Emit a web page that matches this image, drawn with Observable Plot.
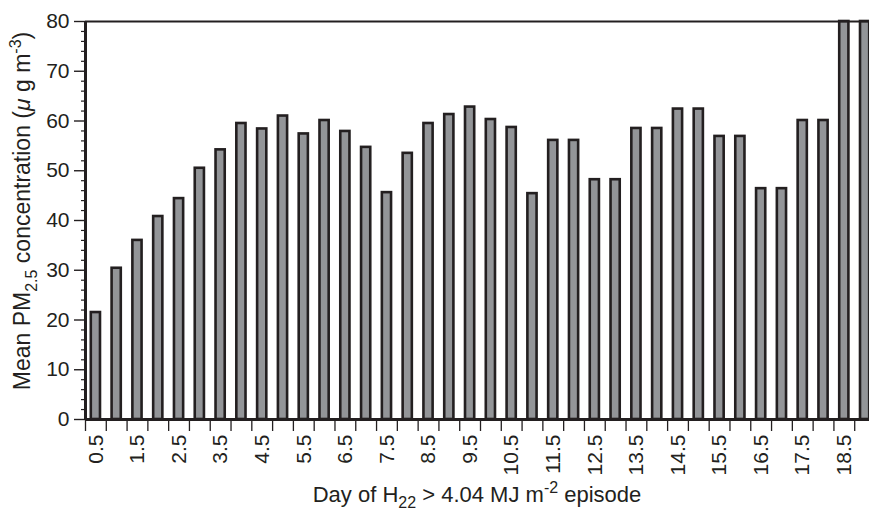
<!DOCTYPE html>
<html>
<head>
<meta charset="utf-8">
<script src="https://cdn.jsdelivr.net/npm/d3@7"></script>
<script src="https://cdn.jsdelivr.net/npm/@observablehq/plot@0.6"></script>
<style>
  html, body { margin: 0; padding: 0; background: #fff; overflow: hidden; }
  #chart svg { display: block; overflow: hidden; }
</style>
</head>
<body>
<div id="chart"></div>
<script>
// Day of the H22 > 4.04 MJ m-2 episode (bar positions)
const days = [0.5, 1, 1.5, 2, 2.5, 3, 3.5, 4, 4.5, 5, 5.5, 6, 6.5, 7, 7.5, 8, 8.5, 9, 9.5, 10,
              10.5, 11, 11.5, 12, 12.5, 13, 13.5, 14, 14.5, 15, 15.5, 16, 16.5, 17, 17.5, 18, 18.5, 19];
// Mean PM2.5 concentration (µg m-3)
const pm25 = [21.5, 30.4, 36.0, 40.8, 44.4, 50.5, 54.2, 59.5, 58.4, 61.0, 57.4, 60.1, 57.9, 54.7, 45.6, 53.5,
              59.5, 61.3, 62.8, 60.3, 58.7, 45.4, 56.1, 56.1, 48.2, 48.2, 58.5, 58.5, 62.4, 62.4, 56.9, 56.9,
              46.4, 46.4, 60.1, 60.1, 80, 80];
// Labelled x ticks
const xLabels = [0.5, 1.5, 2.5, 3.5, 4.5, 5.5, 6.5, 7.5, 8.5, 9.5, 10.5, 11.5, 12.5, 13.5, 14.5, 15.5, 16.5, 17.5, 18.5];
// Y ticks
const yMajor = [0, 10, 20, 30, 40, 50, 60, 70, 80];
const yMinor = d3.range(0, 81, 2).filter(v => v % 10 !== 0);

const halfStep = 0.25;
const data = days.map((d, i) => ({day: d, pm: pm25[i]}));
const xBoundaries = days.map(d => d - halfStep).concat([days[days.length - 1] + halfStep]);

const ink = "#231f20";
const width = 869, height = 510;
const marginLeft = 85, marginTop = 21, marginBottom = 91;

const plot = Plot.plot({
  width, height,
  marginLeft, marginTop, marginBottom, marginRight: 0,
  style: {fontFamily: "'Liberation Sans', Arial, Helvetica, sans-serif", fontSize: "21px", color: ink, background: "#fff"},
  x: {domain: [days[0] - halfStep, days[days.length - 1] + halfStep], range: [marginLeft, 875]},
  y: {domain: [0, 80]},
  marks: [
    Plot.rectY(data, {
      x1: d => d.day - halfStep, x2: d => d.day + halfStep, y: "pm",
      fill: "#939598", stroke: ink, strokeWidth: 2.6,
      insetLeft: 5.8, insetRight: 5.8
    }),
    Plot.axisY({ticks: yMinor, tickSize: 4, tickFormat: () => "", label: null, strokeWidth: 1.2}),
    Plot.axisY({ticks: yMajor, tickSize: 11, tickPadding: 5, label: null, strokeWidth: 1.4}),
    Plot.axisX({ticks: xBoundaries, tickSize: 12, tickFormat: () => "", label: null, strokeWidth: 1.3}),
    Plot.axisX({ticks: xLabels, tickSize: 0, tickPadding: 15, tickRotate: -90,
                tickFormat: d => String(d), label: null}),
    Plot.ruleY([80], {stroke: ink, strokeWidth: 2}),
    Plot.ruleY([0], {stroke: ink, strokeWidth: 3}),
    Plot.ruleX([days[0] - halfStep], {stroke: ink, strokeWidth: 3})
  ]
});

document.getElementById("chart").appendChild(plot);

const svg = d3.select(plot);
// Larger tick labels
svg.selectAll("g[aria-label*='tick label']").attr("font-size", 21).attr("fill", ink);
svg.selectAll("g[aria-label*='tick label'] text").attr("font-size", 21);

// Axis titles with sub/superscripts
const font = "'Liberation Sans', Arial, Helvetica, sans-serif";

const xt = svg.append("text")
  .attr("x", 477).attr("y", 502)
  .attr("text-anchor", "middle")
  .attr("font-family", font).attr("font-size", 22).attr("fill", ink);
xt.append("tspan").text("Day of H");
xt.append("tspan").attr("font-size", 16).attr("dy", 5.5).text("22");
xt.append("tspan").attr("dy", -5.5).text(" > 4.04 MJ m");
xt.append("tspan").attr("font-size", 16).attr("dy", -9).text("-2");
xt.append("tspan").attr("dy", 9).text(" episode");

const yt = svg.append("text")
  .attr("transform", "translate(30,211) rotate(-90)")
  .attr("text-anchor", "middle")
  .attr("font-family", font).attr("font-size", 23).attr("fill", ink);
yt.append("tspan").text("Mean PM");
yt.append("tspan").attr("font-size", 16).attr("dy", 7).text("2.5");
yt.append("tspan").attr("dy", -7).text(" concentration (");
yt.append("tspan").attr("font-style", "italic").text("\u03bc");
yt.append("tspan").text(" g m");
yt.append("tspan").attr("font-size", 16).attr("dy", -9).text("-3");
yt.append("tspan").attr("dy", 9).text(")");
</script>
</body>
</html>
